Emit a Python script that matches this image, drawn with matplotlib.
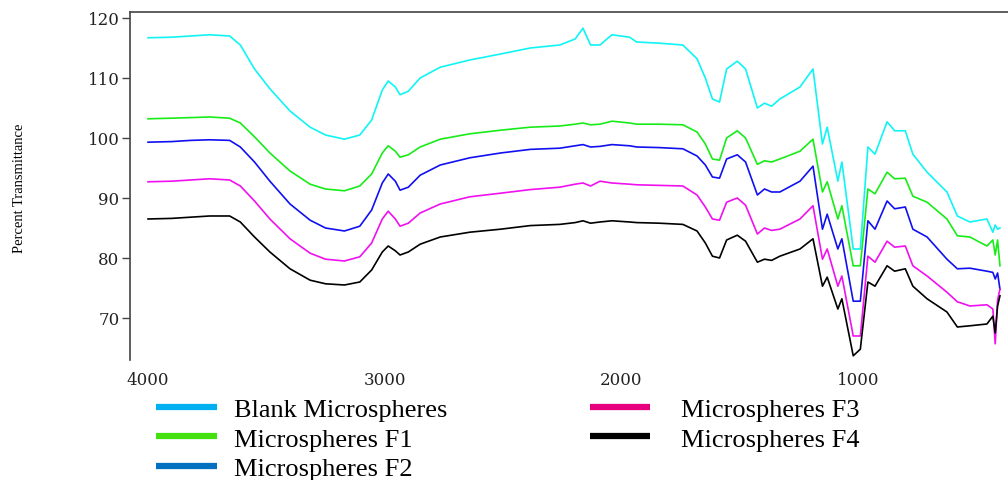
import matplotlib
matplotlib.use("Agg")
import matplotlib.pyplot as plt
from matplotlib.lines import Line2D

# wavenumber (cm-1)
wavenumber = [4000, 3900, 3820, 3740, 3655, 3610, 3550, 3485, 3400, 3315, 3250, 3170, 3105, 3055,
              3010, 2985, 2955, 2935, 2900, 2850, 2765, 2640, 2510, 2385, 2260, 2195, 2162, 2130,
              2090, 2040, 1965, 1935, 1840, 1740, 1680, 1645, 1615, 1585, 1555, 1510, 1475, 1425,
              1395, 1365, 1330, 1245, 1190, 1150, 1130, 1085, 1068, 1020, 990, 958, 928, 877,
              845, 800, 768, 708, 624, 580, 527, 455, 430, 420, 410, 400]

blank = [116.7, 116.8, 117.0, 117.2, 117.0, 115.5, 111.5, 108.2, 104.5, 101.8, 100.5, 99.8, 100.5, 103.0,
         108.0, 109.5, 108.5, 107.2, 107.8, 110.0, 111.8, 113.0, 114.0, 115.0, 115.5, 116.5, 118.3, 115.5,
         115.5, 117.2, 116.8, 116.0, 115.8, 115.5, 113.2, 110.0, 106.5, 106.0, 111.5, 112.8, 111.5, 105.0,
         105.8, 105.3, 106.5, 108.5, 111.5, 99.0, 101.8, 92.8, 96.0, 81.5, 81.5, 98.5, 97.3, 102.7,
         101.2, 101.2, 97.3, 94.3, 91.0, 87.0, 86.0, 86.5, 84.3, 85.5, 84.8, 85.0]

f1 = [103.2, 103.3, 103.4, 103.5, 103.3, 102.5, 100.2, 97.5, 94.5, 92.3, 91.5, 91.2, 92.0, 94.0,
      97.5, 98.7, 97.8, 96.8, 97.2, 98.5, 99.8, 100.7, 101.3, 101.8, 102.0, 102.3, 102.5, 102.2,
      102.3, 102.8, 102.5, 102.3, 102.3, 102.2, 101.0, 99.0, 96.5, 96.3, 100.0, 101.2, 100.0, 95.6,
      96.2, 96.0, 96.5, 97.8, 99.8, 91.0, 92.7, 86.5, 88.7, 78.7, 78.7, 91.5, 90.7, 94.3,
      93.2, 93.3, 90.3, 89.3, 86.5, 83.7, 83.5, 82.0, 83.0, 80.5, 83.0, 78.7]

f2 = [99.3, 99.4, 99.6, 99.7, 99.6, 98.5, 96.0, 92.8, 89.0, 86.3, 85.0, 84.5, 85.3, 88.0,
      92.5, 94.0, 92.8, 91.3, 91.8, 93.8, 95.5, 96.7, 97.5, 98.1, 98.3, 98.7, 98.9, 98.5,
      98.6, 98.9, 98.7, 98.5, 98.4, 98.2, 97.0, 95.5, 93.5, 93.3, 96.5, 97.2, 96.0, 90.5,
      91.5, 91.0, 91.0, 92.8, 95.3, 84.8, 87.3, 81.5, 83.2, 72.8, 72.8, 86.2, 84.8, 89.5,
      88.2, 88.5, 84.8, 83.5, 79.8, 78.2, 78.3, 77.8, 77.6, 76.5, 77.5, 74.8]

f3 = [92.7, 92.8, 93.0, 93.2, 93.0, 92.0, 89.5, 86.5, 83.2, 80.8, 79.8, 79.5, 80.2, 82.5,
      86.5, 87.8, 86.5, 85.3, 85.8, 87.5, 89.0, 90.2, 90.8, 91.4, 91.8, 92.3, 92.5, 92.0,
      92.8, 92.5, 92.3, 92.2, 92.1, 92.0, 90.5, 88.5, 86.5, 86.3, 89.3, 90.0, 88.8, 84.0,
      85.0, 84.6, 84.8, 86.5, 88.7, 79.8, 81.5, 75.3, 77.0, 67.0, 67.0, 80.3, 79.3, 82.8,
      81.8, 82.0, 78.7, 77.0, 74.3, 72.7, 72.0, 72.2, 71.5, 65.7, 73.0, 74.8]

f4 = [86.5, 86.6, 86.8, 87.0, 87.0, 86.0, 83.5, 81.0, 78.2, 76.3, 75.7, 75.5, 76.0, 78.0,
      81.0, 82.0, 81.2, 80.5, 81.0, 82.3, 83.5, 84.3, 84.8, 85.4, 85.6, 85.9, 86.2, 85.8,
      86.0, 86.2, 86.0, 85.9, 85.8, 85.6, 84.5, 82.5, 80.3, 80.0, 83.0, 83.8, 82.8, 79.3,
      79.8, 79.6, 80.3, 81.5, 83.2, 75.3, 76.8, 71.5, 73.2, 63.7, 64.8, 76.0, 75.3, 78.7,
      77.8, 78.2, 75.3, 73.2, 71.0, 68.5, 68.7, 69.0, 70.3, 67.5, 72.0, 73.7]

labels = ["Blank Microspheres", "Microspheres F1", "Microspheres F2", "Microspheres F3", "Microspheres F4"]
line_colors = ["#10f4f4", "#18ec18", "#1010f0", "#f010f0", "#000000"]
legend_colors = ["#00b0f0", "#44e010", "#0070c0", "#e6007e", "#000000"]

fig = plt.figure(figsize=(10.08, 4.81), dpi=100)
ax = fig.add_axes([0.129, 0.2495, 0.871, 0.7235])

for serie, c in zip([blank, f1, f2, f3, f4], line_colors):
    ax.plot(wavenumber, serie, color=c, lw=1.2)

ax.set_xlim(4076, 366)
ax.set_ylim(63, 121)
ax.set_yticks([70, 80, 90, 100, 110, 120])
ax.set_xticks([4000, 3000, 2000, 1000])

for s in ["bottom", "right"]:
    ax.spines[s].set_visible(False)
for s in ["left", "top"]:
    ax.spines[s].set_color("#444444")
    ax.spines[s].set_linewidth(1.2)

ax.tick_params(axis="y", length=6, width=1, color="#444444", pad=1.5)
ax.tick_params(axis="x", length=0, pad=8)
for t in ax.get_xticklabels() + ax.get_yticklabels():
    t.set_fontfamily("DejaVu Serif")
    t.set_fontsize(12)
    t.set_color("#222222")

fig.text(20 / 1008, 0.609, "Percent Transmittance", rotation=90, ha="center", va="center",
         family="Liberation Serif", fontsize=10.5)

handles = [Line2D([], [], color=c, lw=4.5, solid_capstyle="butt") for c in legend_colors]
fig.legend(handles[:3], labels[:3], loc="upper left", bbox_to_anchor=(0.155, 0.172),
           frameon=False, prop={"family": "Liberation Serif", "size": 19},
           borderpad=0, borderaxespad=0, handlelength=2.3, handletextpad=0.65, labelspacing=0.24)
fig.legend(handles[3:], labels[3:], loc="upper left", bbox_to_anchor=(0.585, 0.172),
           frameon=False, prop={"family": "Liberation Serif", "size": 19},
           borderpad=0, borderaxespad=0, handlelength=2.3, handletextpad=1.15, labelspacing=0.24)

fig.savefig("out.png", dpi=100)
